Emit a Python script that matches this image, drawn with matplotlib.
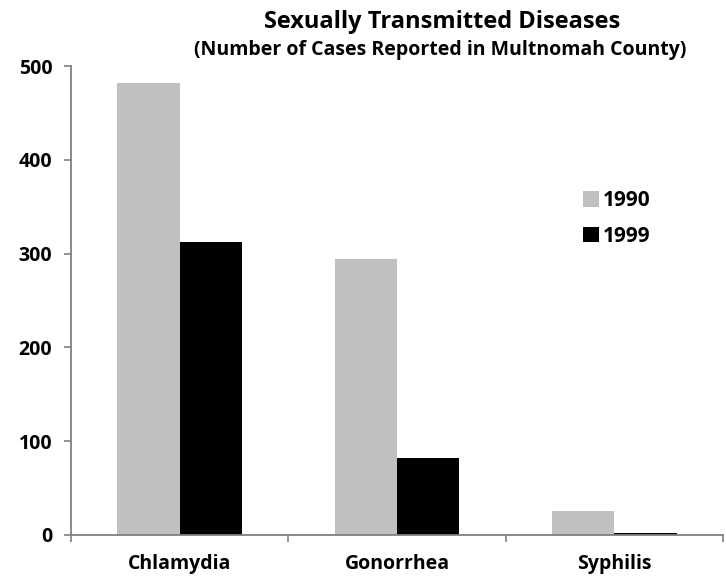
import matplotlib.pyplot as plt
import numpy as np

diseases = ['Chlamydia', 'Gonorrhea', 'Syphilis']
cases_1990 = [482, 294, 25]
cases_1999 = [312, 82, 2]

plt.rcParams['font.family'] = ['Open Sans', 'DejaVu Sans']
plt.rcParams['font.weight'] = 'bold'

fig = plt.figure(figsize=(7.26, 5.8), dpi=100)
ax = fig.add_axes([0.098, 0.078, 0.898, 0.808])

x = np.arange(len(diseases))
w = 0.287
ax.bar(x - w / 2, cases_1990, w, color='#c0c0c0', label='1990')
ax.bar(x + w / 2, cases_1999, w, color='black', label='1999')

ax.set_xlim(-0.5, 2.5)
ax.set_ylim(0, 500)
ax.set_yticks([0, 100, 200, 300, 400, 500])
ax.set_xticks(x)
ax.set_xticklabels(diseases)
ax.set_xticks([-0.5, 0.5, 1.5, 2.5], minor=True)
ax.tick_params(axis='x', which='major', length=0, pad=14, labelsize=14)
ax.tick_params(axis='x', which='minor', length=5, color='#808080', width=1.2)
ax.tick_params(axis='y', length=5, color='#808080', width=1.2, labelsize=14, pad=8.5)
for lbl in ax.get_xticklabels() + ax.get_yticklabels():
    lbl.set_fontweight('bold')

for s in ['top', 'right']:
    ax.spines[s].set_visible(False)
for s in ['left', 'bottom']:
    ax.spines[s].set_color('#808080')
    ax.spines[s].set_linewidth(1.3)

ax.legend(loc='upper left', bbox_to_anchor=(0.757, 0.775), frameon=False,
          handlelength=0.75, handleheight=0.75, handletextpad=0.2,
          labelspacing=0.7, prop={'weight': 'bold', 'size': 15})

fig.text(0.609, 0.952, 'Sexually Transmitted Diseases', ha='center',
         fontsize=17, fontweight='bold')
fig.text(0.606, 0.906, '(Number of Cases Reported in Multnomah County)',
         ha='center', fontsize=14, fontweight='bold')

fig.savefig('out.png', dpi=100)
